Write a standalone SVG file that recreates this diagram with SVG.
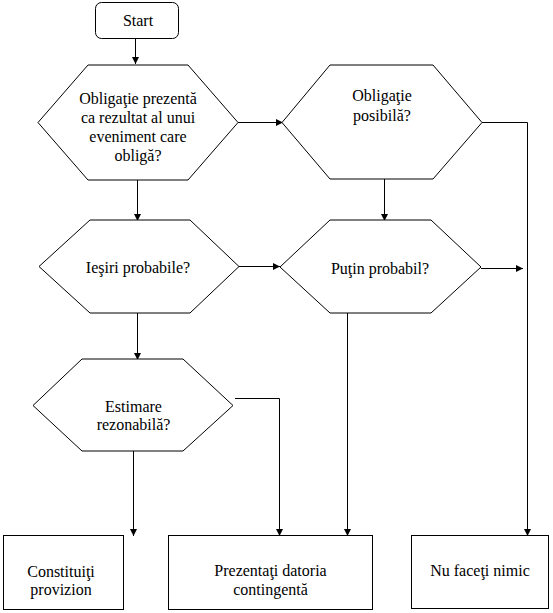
<svg xmlns="http://www.w3.org/2000/svg" width="553" height="613" viewBox="0 0 553 613">
<style>
.shape{fill:#fff;stroke:#000;stroke-width:1}
.t{font-family:'Liberation Serif','Times New Roman',serif;font-size:16px;fill:#000;text-anchor:middle}
.c{fill:none;stroke:#000;stroke-width:1;marker-end:url(#arr)}
</style>
<defs>
<marker id="arr" markerUnits="userSpaceOnUse" markerWidth="8" markerHeight="8" refX="7" refY="3.5" orient="auto">
<path d="M0,0 L7,3.5 L0,7 z" fill="#000"/>
</marker>
</defs>
<rect width="553" height="613" fill="#fff"/>
<g id="connectors">
<path class="c" d="M135.5,38 V64"/>
<path class="c" d="M238,122.5 H283"/>
<path class="c" d="M482,122.5 H527.5 V536"/>
<path class="c" d="M137.5,180 V221"/>
<path class="c" d="M384.5,179 V221"/>
<path class="c" d="M239,266.5 H280"/>
<path class="c" d="M481,268.5 H523"/>
<path class="c" d="M137.5,313 V360"/>
<path class="c" d="M347.5,307 V536"/>
<path class="c" d="M235,398.5 H279.5 V536"/>
<path class="c" d="M133.5,451 V536"/>
</g>
<g id="start">
<rect class="shape" x="95.5" y="2.5" width="83" height="36" rx="6"/>
<text class="t" x="138" y="26">Start</text>
</g>
<g id="obligatie-prezenta">
<polygon class="shape" points="88,65 188,65 238,122.5 188,180 88,180 38,122.5"/>
<text class="t" x="138" y="104">Obligaţie prezentă</text>
<text class="t" x="138" y="123">ca rezultat al unui</text>
<text class="t" x="138" y="142">eveniment care</text>
<text class="t" x="138" y="161">obligă?</text>
</g>
<g id="obligatie-posibila">
<polygon class="shape" points="330,65 433,65 482,122.5 433,179 330,179 282,122.5"/>
<text class="t" x="382" y="101">Obligaţie</text>
<text class="t" x="382" y="121">posibilă?</text>
</g>
<g id="iesiri-probabile">
<polygon class="shape" points="90,220 190,220 239,266.5 190,313 90,313 39,266.5"/>
<text class="t" x="138" y="273">Ieşiri probabile?</text>
</g>
<g id="putin-probabil">
<polygon class="shape" points="330,220 431,220 481,267 431,313 330,313 280,267"/>
<text class="t" x="380" y="274">Puţin probabil?</text>
</g>
<g id="estimare-rezonabila">
<polygon class="shape" points="82,359 183,359 233,405.5 183,451 82,451 33,405.5"/>
<text class="t" x="133.5" y="412">Estimare</text>
<text class="t" x="133.5" y="430">rezonabilă?</text>
</g>
<g id="constituiti-provizion">
<rect class="shape" x="3.5" y="535.5" width="120" height="74"/>
<text class="t" x="61" y="577">Constituiţi</text>
<text class="t" x="61" y="595">provizion</text>
</g>
<g id="prezentati-datoria">
<rect class="shape" x="168.5" y="535.5" width="204" height="74"/>
<text class="t" x="270.5" y="576">Prezentaţi datoria</text>
<text class="t" x="270.5" y="595">contingentă</text>
</g>
<g id="nu-faceti-nimic">
<rect class="shape" x="411.5" y="535.5" width="137" height="73"/>
<text class="t" x="480" y="576">Nu faceţi nimic</text>
</g>
</svg>
